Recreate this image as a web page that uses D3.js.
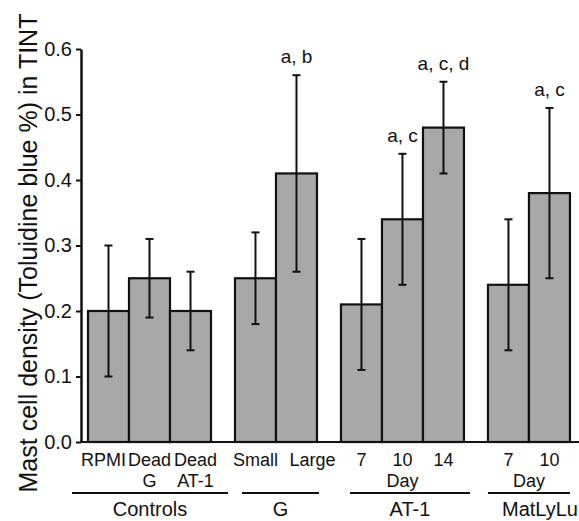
<!DOCTYPE html>
<html>
<head>
<meta charset="utf-8">
<script src="https://cdn.jsdelivr.net/npm/d3@7"></script>
<style>
  body { margin: 0; background: #fff; }
  text { font-family: "Liberation Sans", Arial, sans-serif; fill: #111; }
</style>
</head>
<body>
<div id="chart"></div>
<script>
var w = 579, h = 521; // size of the svg

// data
var groups = ["Controls", "G", "AT-1", "MatLyLu"];
var groupOf = [0, 0, 0, 1, 1, 2, 2, 2, 3, 3]; // which group each bar belongs to
var labelsTop = ["RPMI", "Dead", "Dead", "Small", "Large", "7", "10", "14", "7", "10"];
var labelsBottom = ["", "G", "AT-1", "", "", "", "Day", "", "", ""];
var means = [0.20, 0.25, 0.20, 0.25, 0.41, 0.21, 0.34, 0.48, 0.24, 0.38];
var errLow = [0.10, 0.19, 0.14, 0.18, 0.26, 0.11, 0.24, 0.41, 0.14, 0.25];
var errHigh = [0.30, 0.31, 0.26, 0.32, 0.56, 0.31, 0.44, 0.55, 0.34, 0.51];
var letters = ["", "", "", "", "a, b", "", "a, c", "a, c, d", "", "a, c"];
var yTicks = [0, 0.1, 0.2, 0.3, 0.4, 0.5, 0.6];

var gap = 0.585; // space between groups, in bar widths

var svg = d3.select("#chart")
    .append("svg")
    .attr("width", w)
    .attr("height", h);

var y = d3.scaleLinear()
    .domain([0, 0.6])
    .range([442, 49]);

// x works in "bar slots": bar index plus group gaps
var x = d3.scaleLinear()
    .domain([0, 1])
    .range([88, 129]);

// labels under the bars were placed by hand in the original, nudge a few
var labelNudge = [-5, 0, 5, 0, 16, 0, 0, 0, 0, 0];

var bars = means.map(function(m, i) {
  var slot = i + groupOf[i] * gap;
  return {
    i: i, mean: m, lo: errLow[i], hi: errHigh[i],
    x0: x(slot), x1: x(slot + 1), cx: x(slot + 0.5),
    top: labelsTop[i], bottom: labelsBottom[i], letter: letters[i]
  };
});

// bars
svg.selectAll("rect.bar")
  .data(bars)
  .enter()
  .append("rect")
  .attr("class", "bar")
  .attr("x", function(d) { return d.x0; })
  .attr("y", function(d) { return y(d.mean); })
  .attr("width", function(d) { return d.x1 - d.x0; })
  .attr("height", function(d) { return y(0) - y(d.mean); })
  .attr("fill", "#a8a8a8")
  .attr("stroke", "#111")
  .attr("stroke-width", 2.2);

// error bars
var err = svg.selectAll("g.err")
  .data(bars)
  .enter()
  .append("g")
  .attr("class", "err")
  .attr("stroke", "#111")
  .attr("stroke-width", 2);

err.append("line")
  .attr("x1", function(d) { return d.cx; })
  .attr("x2", function(d) { return d.cx; })
  .attr("y1", function(d) { return y(d.lo); })
  .attr("y2", function(d) { return y(d.hi); });

err.append("line")
  .attr("x1", function(d) { return d.cx - 4; })
  .attr("x2", function(d) { return d.cx + 4; })
  .attr("y1", function(d) { return y(d.hi); })
  .attr("y2", function(d) { return y(d.hi); });

err.append("line")
  .attr("x1", function(d) { return d.cx - 4; })
  .attr("x2", function(d) { return d.cx + 4; })
  .attr("y1", function(d) { return y(d.lo); })
  .attr("y2", function(d) { return y(d.lo); });

// significance letters
svg.selectAll("text.letter")
  .data(bars.filter(function(d) { return d.letter; }))
  .enter()
  .append("text")
  .attr("class", "letter")
  .attr("x", function(d) { return d.cx; })
  .attr("y", function(d) { return y(d.hi) - 12; })
  .attr("text-anchor", "middle")
  .attr("font-size", 19)
  .text(function(d) { return d.letter; });

// y axis
var yAxis = svg.append("g")
  .attr("transform", "translate(81,0)")
  .call(d3.axisLeft(y)
    .tickValues(yTicks)
    .tickFormat(d3.format(".1f"))
    .tickSize(5)
    .tickSizeOuter(0)
    .tickPadding(4));

yAxis.select(".domain").attr("stroke", "#111").attr("stroke-width", 2.5);
yAxis.selectAll(".tick line").attr("stroke", "#111").attr("stroke-width", 2);
yAxis.selectAll(".tick text")
  .attr("font-size", 20)
  .attr("font-family", "Liberation Sans, Arial, sans-serif")
  .attr("fill", "#111");

// baseline
svg.append("line")
  .attr("x1", 80)
  .attr("x2", w)
  .attr("y1", y(0))
  .attr("y2", y(0))
  .attr("stroke", "#111")
  .attr("stroke-width", 2.2);

// y title
svg.append("text")
  .attr("transform", "translate(37," + 253 + ") rotate(-90)")
  .attr("text-anchor", "middle")
  .attr("font-size", 25)
  .text("Mast cell density (Toluidine blue %) in TINT");

// category labels
svg.selectAll("text.cat")
  .data(bars)
  .enter()
  .append("text")
  .attr("class", "cat")
  .attr("x", function(d) { return d.cx + labelNudge[d.i]; })
  .attr("y", 466)
  .attr("text-anchor", "middle")
  .attr("font-size", 18)
  .text(function(d) { return d.top; });

// second line ("G", "AT-1", "Day")
svg.selectAll("text.cat2")
  .data(bars.filter(function(d) { return d.bottom; }))
  .enter()
  .append("text")
  .attr("class", "cat2")
  .attr("x", function(d) { return d.cx + labelNudge[d.i]; })
  .attr("y", 487)
  .attr("text-anchor", "middle")
  .attr("font-size", 18)
  .text(function(d) { return d.bottom; });

// MatLyLu also has "Day" under it, between its two bars
svg.append("text")
  .attr("x", (bars[8].cx + bars[9].cx) / 2)
  .attr("y", 487)
  .attr("text-anchor", "middle")
  .attr("font-size", 18)
  .text("Day");

// group lines + names
var lineNudge = [[-16, 17], [7, 2], [9, 6], [0, 0]]; // hand drawn lines don't match bars exactly
var grp = groups.map(function(g, k) {
  var members = bars.filter(function(d) { return groupOf[d.i] == k; });
  var a = members[0].x0 + lineNudge[k][0];
  var b = members[members.length - 1].x1 + lineNudge[k][1];
  return { name: g, a: a, b: b };
});

svg.selectAll("line.grp")
  .data(grp)
  .enter()
  .append("line")
  .attr("class", "grp")
  .attr("x1", function(d) { return d.a; })
  .attr("x2", function(d) { return d.b; })
  .attr("y1", 493)
  .attr("y2", 493)
  .attr("stroke", "#111")
  .attr("stroke-width", 2);

svg.selectAll("text.grp")
  .data(grp)
  .enter()
  .append("text")
  .attr("class", "grp")
  .attr("x", function(d) { return (d.a + d.b) / 2 + (d.name == "MatLyLu" ? 11 : 0); })
  .attr("y", 516)
  .attr("text-anchor", "middle")
  .attr("font-size", 20)
  .text(function(d) { return d.name; });
</script>
</body>
</html>
